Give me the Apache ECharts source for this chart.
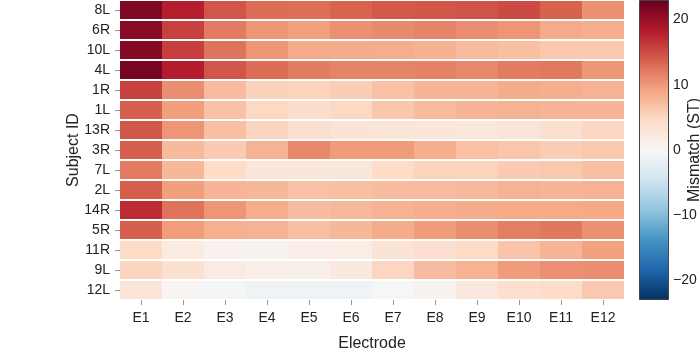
<!DOCTYPE html>
<html>
<head>
<meta charset="utf-8">
<script src="https://cdn.jsdelivr.net/npm/echarts@6/dist/echarts.min.js"></script>
<style>
html, body { margin: 0; padding: 0; background: #fff; }
#main { width: 700px; height: 350px; }
</style>
</head>
<body>
<div id="main"></div>
<script>
var electrodes = ['E1', 'E2', 'E3', 'E4', 'E5', 'E6', 'E7', 'E8', 'E9', 'E10', 'E11', 'E12'];
var subjects = ['8L', '6R', '10L', '4L', '1R', '1L', '13R', '3R', '7L', '2L', '14R', '5R', '11R', '9L', '12L'];

// mismatch (ST), one row per subject, E1..E12
var rows = [
    [21.5, 18.0, 14.5, 13.0, 12.8, 13.5, 14.2, 14.4, 14.6, 15.2, 13.6, 10.5],
    [21.0, 15.8, 12.0, 10.2, 9.5, 10.6, 11.0, 11.4, 10.8, 10.3, 8.7, 8.4],
    [21.2, 16.0, 12.5, 10.3, 8.7, 8.6, 8.5, 8.2, 7.3, 7.0, 6.2, 6.2],
    [22.0, 18.2, 14.5, 13.0, 11.9, 11.4, 11.4, 11.6, 11.2, 12.0, 12.1, 10.1],
    [15.8, 10.8, 7.3, 5.4, 5.2, 5.8, 6.9, 7.8, 7.9, 8.6, 8.4, 8.1],
    [13.8, 9.6, 6.7, 4.8, 4.2, 4.8, 6.3, 7.3, 7.8, 8.0, 7.9, 7.8],
    [14.5, 10.3, 7.0, 5.1, 3.8, 3.3, 3.0, 2.8, 2.5, 3.0, 3.8, 5.0],
    [13.8, 7.4, 6.0, 8.0, 11.1, 9.8, 9.8, 8.4, 6.9, 6.5, 5.8, 6.2],
    [12.0, 7.6, 4.5, 2.8, 2.8, 2.6, 4.5, 5.3, 5.3, 6.0, 6.2, 7.0],
    [13.9, 9.6, 7.9, 7.6, 6.7, 7.0, 7.3, 7.3, 7.5, 8.0, 7.9, 8.1],
    [17.2, 12.6, 10.3, 8.5, 7.2, 7.5, 8.0, 8.4, 8.6, 8.8, 8.8, 8.9],
    [13.8, 9.7, 8.3, 8.0, 7.0, 7.6, 8.6, 9.8, 10.7, 11.8, 12.3, 10.6],
    [4.6, 2.2, 1.0, 0.8, 1.5, 1.6, 3.2, 3.9, 4.6, 6.6, 7.8, 9.4],
    [5.1, 3.7, 2.0, 1.4, 1.3, 2.3, 5.0, 7.3, 8.0, 9.8, 10.6, 10.8],
    [3.0, 0.5, -0.5, -1.0, -1.1, -1.0, -0.2, 0.8, 2.4, 3.9, 4.3, 6.2]
];

var cbMin = -23, cbMax = 23;
var cbTicks = [-20, -10, 0, 10, 20];
var rdbu = ['#053061', '#2166ac', '#4393c3', '#92c5de', '#d1e5f0', '#f7f7f7',
            '#fddbc7', '#f4a582', '#d6604d', '#b2182b', '#67001f'];

var data = [];
for (var i = 0; i < subjects.length; i++) {
    for (var j = 0; j < electrodes.length; j++) {
        data.push([j, i, rows[i][j]]);
    }
}

var font = 'Liberation Sans, Arial, sans-serif';

function renderCell(params, api) {
    var c = api.coord([api.value(0), api.value(1)]);
    var s = api.size([1, 1]);
    return {
        type: 'rect',
        shape: { x: c[0] - s[0] / 2, y: c[1] - s[1] / 2 + 1, width: s[0], height: s[1] - 2 },
        style: { fill: api.visual('color') }
    };
}

function renderBar(params, api) {
    var top = api.coord([0, api.value(2)]);
    var bottom = api.coord([0, api.value(1)]);
    var w = api.size([1, 0])[0];
    var stops = [];
    for (var k = 0; k < rdbu.length; k++) {
        stops.push({ offset: k / (rdbu.length - 1), color: rdbu[rdbu.length - 1 - k] });
    }
    return {
        type: 'rect',
        shape: { x: top[0] - w / 2 + 0.5, y: top[1] + 0.5, width: w - 1, height: bottom[1] - top[1] - 1 },
        style: {
            fill: new echarts.graphic.LinearGradient(0, 0, 0, 1, stops),
            stroke: '#444',
            lineWidth: 1
        }
    };
}

var chart = echarts.init(document.getElementById('main'));
chart.setOption({
    animation: false,
    textStyle: { fontFamily: font },
    grid: [
        { left: 120, top: 0, width: 504, height: 300, outerBoundsMode: 'none' },
        { left: 639, top: 0, width: 30, height: 300, outerBoundsMode: 'none' }
    ],
    xAxis: [{
        type: 'category',
        data: electrodes,
        name: 'Electrode',
        nameLocation: 'middle',
        nameGap: 36,
        nameMoveOverlap: false,
        nameTextStyle: { fontSize: 16, color: '#222' },
        axisLine: { show: false },
        axisTick: { show: true, alignWithLabel: true, length: 5, lineStyle: { color: '#999' } },
        axisLabel: { fontSize: 14, color: '#222', margin: 11 },
        splitLine: { show: false }
    }, {
        type: 'category',
        gridIndex: 1,
        data: ['cb'],
        show: false
    }],
    yAxis: [{
        type: 'category',
        data: subjects,
        inverse: true,
        name: 'Subject ID',
        nameLocation: 'middle',
        nameGap: 38,
        nameMoveOverlap: false,
        nameTextStyle: { fontSize: 16, color: '#222' },
        axisLine: { show: false },
        axisTick: { show: true, alignWithLabel: true, length: 5, lineStyle: { color: '#999' } },
        axisLabel: { fontSize: 14, color: '#222', margin: 10 },
        splitLine: { show: false }
    }, {
        type: 'value',
        gridIndex: 1,
        position: 'right',
        min: cbMin,
        max: cbMax,
        name: 'Mismatch (ST)',
        nameLocation: 'middle',
        nameGap: 18,
        nameRotate: 90,
        nameMoveOverlap: false,
        nameTextStyle: { fontSize: 16, color: '#222' },
        axisLine: { show: false },
        axisTick: { show: false },
        splitLine: { show: false },
        axisLabel: {
            fontSize: 14,
            color: '#222',
            margin: 4,
            customValues: cbTicks,
            formatter: function (v) { return String(v).replace('-', '\u2212'); }
        }
    }],
    visualMap: {
        type: 'continuous',
        show: false,
        seriesIndex: 0,
        dimension: 2,
        min: cbMin,
        max: cbMax,
        inRange: { color: rdbu }
    },
    series: [{
        type: 'custom',
        renderItem: renderCell,
        encode: { x: 0, y: 1 },
        data: data
    }, {
        type: 'custom',
        xAxisIndex: 1,
        yAxisIndex: 1,
        renderItem: renderBar,
        encode: { x: 0, y: [1, 2] },
        data: [[0, cbMin, cbMax]]
    }]
});
</script>
</body>
</html>
